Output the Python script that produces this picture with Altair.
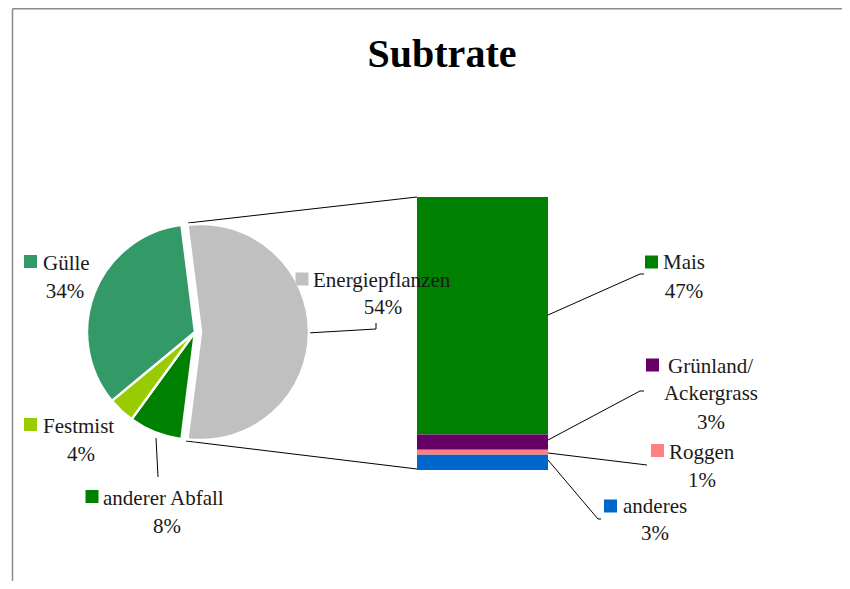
import math
import altair as alt
import pandas as pd

# ---------------- data ----------------
pie_names = ["Energiepflanzen", "anderer Abfall", "Festmist", "Gülle"]
pie_values = [54, 8, 4, 34]

bar_names = ["Mais", "Grünland/Ackergrass", "Roggen", "anderes"]
bar_values = [47, 3, 1, 3]

all_names = pie_names + bar_names
all_colors = ["#C0C0C0", "#008000", "#99CC00", "#339966",
              "#008000", "#660066", "#FF8080", "#0066CC"]

title_text = "Subtrate"

# ---------------- layout (chart pixel coordinates) ----------------
W, H = 834, 573
pie_center = (187, 324)
explode_center = (193, 324)
pie_radius = 108
bar_x = (409, 540)
bar_y_range = [462, 189]

# label layout: square centre, name baseline start, sub-text (centre, first baseline)
label_pos = {
    "Gülle":               dict(sq=(22.5, 253.5), nm=(35, 262),  sb=(57, 290)),
    "Festmist":            dict(sq=(22.5, 416.5), nm=(35, 425),  sb=(73, 453)),
    "anderer Abfall":      dict(sq=(84, 488.5),   nm=(95, 497),  sb=(159, 525)),
    "Energiepflanzen":     dict(sq=(294, 271),    nm=(305, 279), sb=(375, 306)),
    "Mais":                dict(sq=(643.5, 254),  nm=(655, 261), sb=(676, 290)),
    "Grünland/Ackergrass": dict(sq=(644.5, 357),  nm=(660, 365), sb=(703, 392)),
    "Roggen":              dict(sq=(649.5, 442.5), nm=(661, 451), sb=(694, 479)),
    "anderes":             dict(sq=(602.5, 498),  nm=(615, 505), sb=(647, 532)),
}

# connector / leader line segments
segments = [
    (180, 215, 409, 189),   # pie -> bar top
    (178, 433, 409, 461),   # pie -> bar bottom
    (299, 325, 368, 321), (368, 321, 368, 315),   # Energiepflanzen
    (540, 307, 632, 266), (632, 266, 636, 266),   # Mais
    (540, 432, 632, 383), (632, 383, 636, 383),   # Grünland
    (540, 445, 639, 457),                         # Roggen
    (540, 452, 590, 511), (590, 511, 593, 511),   # anderes
    (148, 430, 150, 469),                         # anderer Abfall
]

FONT = "Liberation Serif"

color_enc = alt.Color("name:N", scale=alt.Scale(domain=all_names, range=all_colors), legend=None)

# ---------------- pie ----------------
pie_df = pd.DataFrame({"name": pie_names, "v": pie_values, "o": list(range(len(pie_names)))})
total = sum(pie_values)
first_share = pie_values[0] / total
start = 2 * math.pi + math.pi / 2 - math.pi * first_share
theta_enc = alt.Theta("v:Q", stack=True, scale=alt.Scale(range=[start, start + 2 * math.pi]))

pie_base = alt.Chart(pie_df).mark_arc(outerRadius=pie_radius, stroke="white", strokeWidth=2.5)
pie_main = pie_base.encode(
    theta=theta_enc, order=alt.Order("o:Q"), color=color_enc,
    x=alt.value(pie_center[0]), y=alt.value(pie_center[1]),
    opacity=alt.condition("datum.name === 'Energiepflanzen'", alt.value(0), alt.value(1)),
)
pie_expl = pie_base.encode(
    theta=theta_enc, order=alt.Order("o:Q"), color=color_enc,
    x=alt.value(explode_center[0]), y=alt.value(explode_center[1]),
    opacity=alt.condition("datum.name === 'Energiepflanzen'", alt.value(1), alt.value(0)),
)

# ---------------- bar (stacked) ----------------
bar_df = pd.DataFrame({"name": bar_names, "v": bar_values,
                       "o": list(range(len(bar_names)))[::-1]})
bar = alt.Chart(bar_df).transform_stack(
    stack="v", groupby=[], as_=["y0", "y1"], sort=[alt.SortField("o", order="ascending")]
).mark_rect().encode(
    x=alt.value(bar_x[0]), x2=alt.value(bar_x[1]),
    y=alt.Y("y0:Q", axis=None, scale=alt.Scale(range=bar_y_range, nice=False, zero=True)),
    y2="y1:Q",
    color=color_enc,
)

# ---------------- labels ----------------
rows = []
for n, v in list(zip(pie_names, pie_values)) + list(zip(bar_names, bar_values)):
    p = label_pos[n]
    parts = n.replace("/", "/\n").split("\n")
    first = parts[0]
    sub = "\n".join(parts[1:] + [f"{v}%"])
    rows.append(dict(name=n, first=first, sub=sub,
                     sqx=p["sq"][0], sqy=p["sq"][1],
                     nx=p["nm"][0], ny=p["nm"][1],
                     px=p["sb"][0], py=p["sb"][1]))
lab_df = pd.DataFrame(rows)

squares = alt.Chart(lab_df).mark_square(size=169, opacity=1).encode(
    x=alt.X("sqx:Q", scale=None, axis=None), y=alt.Y("sqy:Q", scale=None, axis=None),
    color=color_enc,
)
names_txt = alt.Chart(lab_df).mark_text(
    align="left", baseline="alphabetic", font=FONT, fontSize=21, color="#1a1a1a"
).encode(x=alt.X("nx:Q", scale=None, axis=None), y=alt.Y("ny:Q", scale=None, axis=None), text="first:N")
sub_txt = alt.Chart(lab_df).mark_text(
    align="center", baseline="alphabetic", font=FONT, fontSize=21, color="#1a1a1a",
    lineBreak="\n", lineHeight=28.5,
).encode(x=alt.X("px:Q", scale=None, axis=None), y=alt.Y("py:Q", scale=None, axis=None), text="sub:N")

# ---------------- lines ----------------
seg_df = pd.DataFrame(segments, columns=["x", "y", "x2", "y2"])
leaders = alt.Chart(seg_df).mark_rule(color="#000000", strokeWidth=1).encode(
    x=alt.X("x:Q", scale=None, axis=None), y=alt.Y("y:Q", scale=None, axis=None),
    x2="x2:Q", y2="y2:Q",
)

border_df = pd.DataFrame({"x": [4.5, 4.5], "y": [0.75, 0.75], "x2": [W, 4.5], "y2": [0.75, H]})
border = alt.Chart(border_df).mark_rule(color="#8a8a8a", strokeWidth=1.5).encode(
    x=alt.X("x:Q", scale=None, axis=None), y=alt.Y("y:Q", scale=None, axis=None),
    x2="x2:Q", y2="y2:Q",
)

title = alt.Chart(pd.DataFrame({"t": [title_text]})).mark_text(
    align="center", baseline="alphabetic", font=FONT, fontSize=40, fontWeight="bold", color="#000000"
).encode(x=alt.value(434), y=alt.value(59), text="t:N")

chart = alt.layer(
    border, leaders, pie_main, pie_expl, bar, squares, names_txt, sub_txt, title
).resolve_scale(
    x="independent", y="independent"
).properties(
    width=W, height=H, autosize=alt.AutoSizeParams(type="none"), padding=0
).configure_view(strokeWidth=0)

chart.save("out.html", embed_options={"renderer": "svg", "actions": False})
